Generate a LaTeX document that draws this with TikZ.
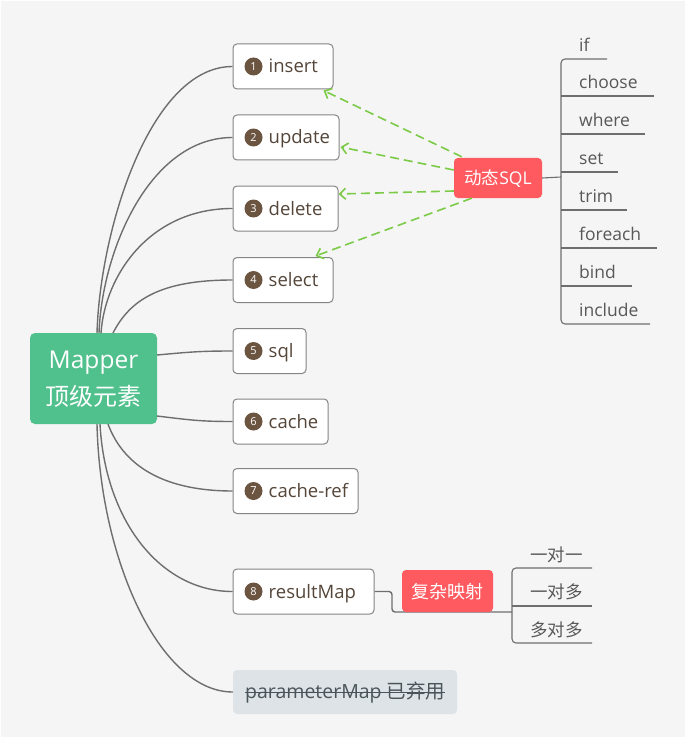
\documentclass[tikz,border=0pt]{standalone}
\usepackage{fontspec}
\setmainfont{Open Sans}
\newfontfamily\cjk{Noto Sans CJK SC}
\usetikzlibrary{arrows.meta,calc}
\definecolor{bgc}{HTML}{F5F5F5}
\definecolor{lnc}{HTML}{6E6E6E}
\definecolor{bdc}{HTML}{858585}
\definecolor{brn}{HTML}{6B5440}
\definecolor{lbc}{HTML}{55463A}
\definecolor{subc}{HTML}{585858}
\definecolor{grn}{HTML}{50C08C}
\definecolor{redc}{HTML}{FF5A60}
\definecolor{dgr}{HTML}{7CCB48}
\definecolor{pmf}{HTML}{DDE3E6}
\definecolor{pmt}{HTML}{4A545A}
\newcommand{\fsz}[1]{\fontsize{#1}{#1}\selectfont}
\tikzset{
  box/.style={draw=bdc, line width=1pt, fill=white, rounded corners=4pt, inner sep=0pt, minimum height=45pt},
  num/.style={circle, fill=brn, text=white, inner sep=0pt, minimum size=18pt, font=\fsz{11}},
  lbl/.style={anchor=base west, inner sep=0pt, text=lbc, font=\fsz{18.5}},
  sub/.style={anchor=base west, inner sep=0pt, text=subc, font=\fsz{17.5}},
  conn/.style={draw=lnc, line width=1.4pt},
  brk/.style={draw=lnc, line width=1.1pt},
  dsh/.style={draw=dgr, line width=1.6pt, dash pattern=on 9pt off 5pt, -{Straight Barb[length=6pt,width=11pt]}},
  hot/.style={fill=redc, rounded corners=4pt, inner sep=0pt, text=white},
}
\begin{document}
\begin{tikzpicture}[x=1pt,y=-1pt]
\useasboundingbox (0,0) rectangle (693,738);
\fill[bgc] (1,1) rectangle (685,737);

% main node
\node[fill=grn, rounded corners=5pt, minimum width=127pt, minimum height=91pt, inner sep=0pt] (m) at (93.5,378.5) {};
\node[anchor=base, inner sep=0pt, text=white, font=\fsz{24.5}] (mt1) at (93.5,368) {Mapper};
\node[anchor=base, inner sep=0pt, text=white, font=\fsz{24}\cjk] (mt2) at (93.5,405) {顶级元素};

% boxes
\node[box, minimum width=100pt] (b1) at (283,66.5) {};
\node[box, minimum width=106pt] (b2) at (286,137.5) {};
\node[box, minimum width=105pt] (b3) at (285.5,208.5) {};
\node[box, minimum width=100pt] (b4) at (283,280) {};
\node[box, minimum width=73pt] (b5) at (269.5,351) {};
\node[box, minimum width=95pt] (b6) at (280.5,421.5) {};
\node[box, minimum width=125pt] (b7) at (295.5,491) {};
\node[box, minimum width=141pt] (b8) at (303.5,591.5) {};
\node[fill=pmf, rounded corners=4pt, inner sep=0pt, minimum width=224pt, minimum height=44pt] (pm) at (345,692) {};

\foreach \i/\t in {1/insert,2/update,3/delete,4/select,5/sql,6/cache,7/cache-ref,8/resultMap}{
  \node[num] (n\i) at ($(b\i.west)+(21,0)$) {\i};
  \node[lbl] (l\i) at ($(b\i.west)+(36,6.5)$) {\t};
}
\node[anchor=base west, inner sep=0pt, text=pmt, font=\fsz{19.5}] (pmtx) at (245,698.5) {parameterMap {\cjk 已弃用}};
\draw[pmt, line width=1pt] ($(pmtx.base west)+(0,-6)$) -- ($(pmtx.base east)+(0,-6)$);

% curves from Mapper
\coordinate (s1) at (97,333);
\coordinate (s2) at (99,333);
\coordinate (s3) at (101,333);
\coordinate (s4) at (113,333);
\coordinate (s5) at (157,355);
\coordinate (s6) at (157,416);
\coordinate (s7) at (108,424);
\coordinate (s8) at (100,424);
\coordinate (s9) at (97,424);
\draw[conn] (s1) .. controls (100,230) and (150,66.5) .. (b1.west);
\draw[conn] (s2) .. controls (102,250) and (150,137.5) .. (b2.west);
\draw[conn] (s3) .. controls (105,275) and (150,208.5) .. (b3.west);
\draw[conn] (s4) .. controls (130,300) and (160,280) .. (b4.west);
\draw[conn] (s5) .. controls (190,352) and (200,351) .. (b5.west);
\draw[conn] (s6) .. controls (190,420) and (200,421.5) .. (b6.west);
\draw[conn] (s7) .. controls (125,470) and (170,491) .. (b7.west);
\draw[conn] (s8) .. controls (105,520) and (160,591.5) .. (b8.west);
\draw[conn] (s9) .. controls (100,560) and (160,692) .. (pm.west);

% dynamic SQL
\node[hot, minimum width=88pt, minimum height=40pt] (dyn) at (498,178) {};
\node[anchor=base, inner sep=0pt, text=white, font=\fsz{17.5}] (dynt) at (498,185) {{\cjk 动态}SQL};
\draw[dsh] ($(dyn.north west)+(8,-1)$) -- ($(b1.south east)+(-10,1)$);
\draw[dsh] ($(dyn.west)+(0,-8)$) -- ($(b2.east)+(1,9.5)$);
\draw[dsh] ($(dyn.west)+(0,13)$) -- ($(b3.east)+(0,-14.5)$);
\draw[dsh] ($(dyn.south west)+(18,0)$) -- ($(b4.north east)+(-18,-1)$);

\coordinate (vj) at (561,177);
\draw[conn, line width=1.1pt] (dyn.east) -- (vj);
\draw[brk, rounded corners=4pt] (607,59) -- (561,59) -- (561,324) -- (650,324);
\foreach \y/\xe in {96/654,134/645,172/618,210/627,248/657,286/632}{
  \draw[brk] (561,\y) -- (\xe,\y);
}
\foreach \t/\y [count=\k] in {if/59,choose/96,where/134,set/172,trim/210,foreach/248,bind/286,include/324}{
  \node[sub] (d\k) at (579,\y-7.5) {\t};
}

% resultMap
\draw[conn, rounded corners=3pt] (b8.east) -- (392,591.5) -- (392,612) -- (512,612);
\node[hot, minimum width=91pt, minimum height=42pt] (cx) at (447.5,591) {};
\node[anchor=base, inner sep=0pt, text=white, font=\fsz{18}\cjk] (cxt) at (447.5,598) {复杂映射};
\draw[brk, rounded corners=4pt] (592,568) -- (512,568) -- (512,643) -- (592,643);
\draw[brk] (512,606) -- (592,606);
\node[sub, font=\fsz{17.5}\cjk] (r1) at (530,561) {一对一};
\node[sub, font=\fsz{17.5}\cjk] (r2) at (530,598.5) {一对多};
\node[sub, font=\fsz{17.5}\cjk] (r3) at (530,636) {多对多};
\end{tikzpicture}
\end{document}
